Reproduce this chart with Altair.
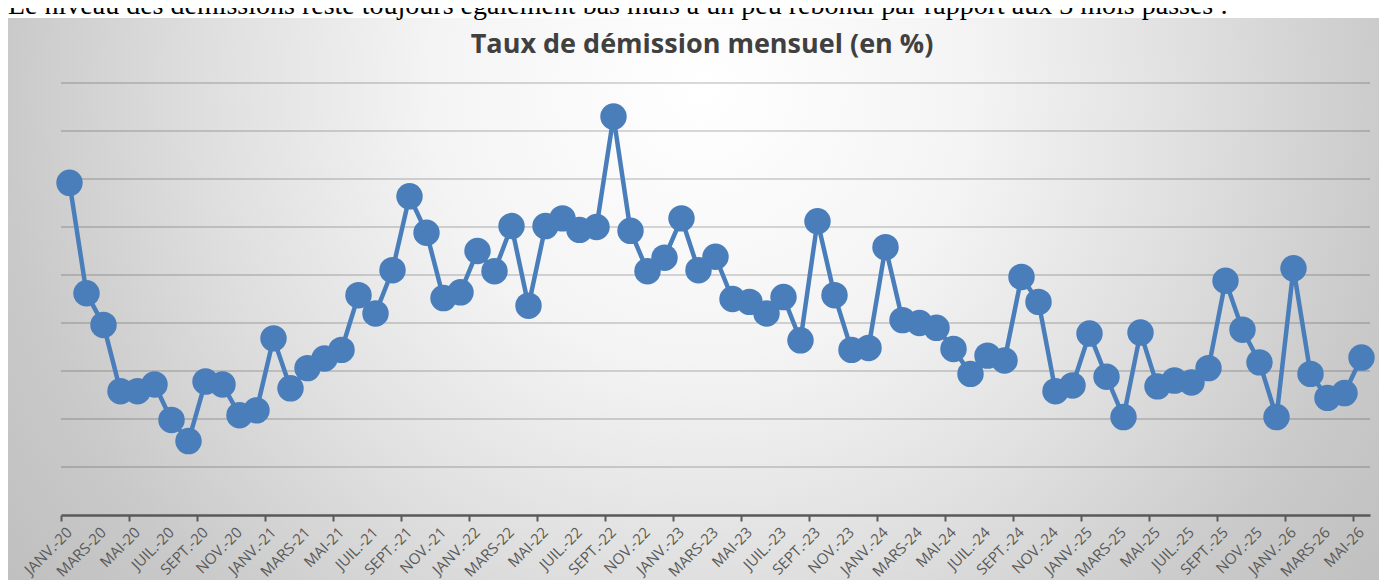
import altair as alt
import pandas as pd

TOP_TEXT = "Le niveau des démissions reste toujours également bas mais a un peu rebondi par rapport aux 3 mois passés :"
TITLE = "Taux de démission mensuel (en %)"

mois_noms = ["JANV.", "FÉVR.", "MARS", "AVR.", "MAI", "JUIN",
             "JUIL.", "AOÛT", "SEPT.", "OCT.", "NOV.", "DÉC."]
annees = ["20", "21", "22", "23", "24", "25", "26"]
mois = [f"{m}-{a}" for a in annees for m in mois_noms][:77]  # JANV.-20 .. MAI-26

taux = [3.46, 2.31, 1.98, 1.29, 1.29, 1.36, 0.99, 0.77, 1.39, 1.36, 1.04, 1.09,
        1.84, 1.32, 1.53, 1.63, 1.72, 2.29, 2.10, 2.55, 3.32, 2.94, 2.26, 2.32,
        2.75, 2.54, 3.01, 2.18, 3.01, 3.09, 2.97, 3.00, 4.15, 2.96, 2.54, 2.68,
        3.09, 2.55, 2.69, 2.25, 2.22, 2.10, 2.27, 1.82, 3.06, 2.29, 1.72, 1.74,
        2.79, 2.03, 2.00, 1.95, 1.73, 1.47, 1.66, 1.61, 2.48, 2.22, 1.29, 1.35,
        1.89, 1.44, 1.02, 1.90, 1.34, 1.40, 1.38, 1.53, 2.44, 1.93, 1.59, 1.02,
        2.57, 1.47, 1.22, 1.27, 1.64]

grid_vals = [0.5, 1.0, 1.5, 2.0, 2.5, 3.0, 3.5, 4.0, 4.5]

df = pd.DataFrame({"idx": list(range(len(mois))), "mois": mois, "taux": taux})
grid_df = pd.DataFrame({"g": grid_vals})
one = pd.DataFrame({"k": [0]})

W, H = 1309, 432
BLUE = "#4a7ebb"
AXIS_GREY = "#595959"

xscale = alt.Scale(domain=[-0.5, len(mois) - 0.5], nice=False, zero=False)
yscale = alt.Scale(domain=[0, 4.5], nice=False, zero=True)

# ticks at the left edge of every other month
tick_vals = [i - 0.5 for i in range(0, len(mois), 2)]

gradient = {
    "gradient": "radial",
    "x1": 0.505, "y1": 0.3476, "r1": 0,
    "x2": 0.505, "y2": 0.3476, "r2": 0.656,
    "stops": [
        {"offset": 0, "color": "#ffffff"},
        {"offset": 0.3, "color": "#f4f4f4"},
        {"offset": 0.55, "color": "#dfdfdf"},
        {"offset": 0.78, "color": "#c9c9c9"},
        {"offset": 1, "color": "#bcbcbc"},
    ],
}

bg = alt.Chart(one).mark_rect(fill=gradient, strokeWidth=0).encode(
    x=alt.value(-53), x2=alt.value(W + 9), y=alt.value(-65), y2=alt.value(H + 65)
)

top_text = alt.Chart(one).mark_text(
    font="Liberation Serif", fontSize=28, align="left", baseline="alphabetic", color="#000000"
).encode(x=alt.value(-53), y=alt.value(-69), text=alt.value(TOP_TEXT))

title = alt.Chart(one).mark_text(
    font="Open Sans", fontWeight="bold", fontSize=27, color="#404040",
    align="center", baseline="middle"
).encode(x=alt.value(641), y=alt.value(-38), text=alt.value(TITLE))

grid = alt.Chart(grid_df).mark_rule(color="#000000", strokeOpacity=0.2, strokeWidth=1.5).encode(
    y=alt.Y("g:Q", scale=yscale, axis=None),
    x=alt.value(0), x2=alt.value(W),
)

xaxis = alt.Axis(
    values=tick_vals, labels=False, title=None, zindex=1,
    domainColor=AXIS_GREY, domainWidth=2.5, tickColor=AXIS_GREY,
    tickWidth=2, tickSize=6, grid=False,
)

line = alt.Chart(df).mark_line(color=BLUE, strokeWidth=4.5).encode(
    x=alt.X("idx:Q", scale=xscale, axis=xaxis),
    y=alt.Y("taux:Q", scale=yscale, axis=None),
)

points = alt.Chart(df).mark_circle(color=BLUE, size=700, opacity=1).encode(
    x=alt.X("idx:Q", scale=xscale),
    y=alt.Y("taux:Q", scale=yscale, axis=None),
)

labels = alt.Chart(df).transform_filter("datum.idx % 2 == 0").mark_text(
    angle=315, align="right", baseline="middle", font="Open Sans",
    fontSize=15, color=AXIS_GREY,
).encode(
    x=alt.X("idx:Q", scale=xscale),
    y=alt.value(H + 15),
    text="mois:N",
)

chart = alt.layer(bg, top_text, title, grid, line, points, labels).properties(
    width=W, height=H,
    padding={"left": 53, "top": 75, "right": 9, "bottom": 65},
    autosize=alt.AutoSizeParams(type="none"),
).configure(background="white").configure_view(stroke=None)

chart.save("out.html", embed_options={"renderer": "svg", "actions": False})
